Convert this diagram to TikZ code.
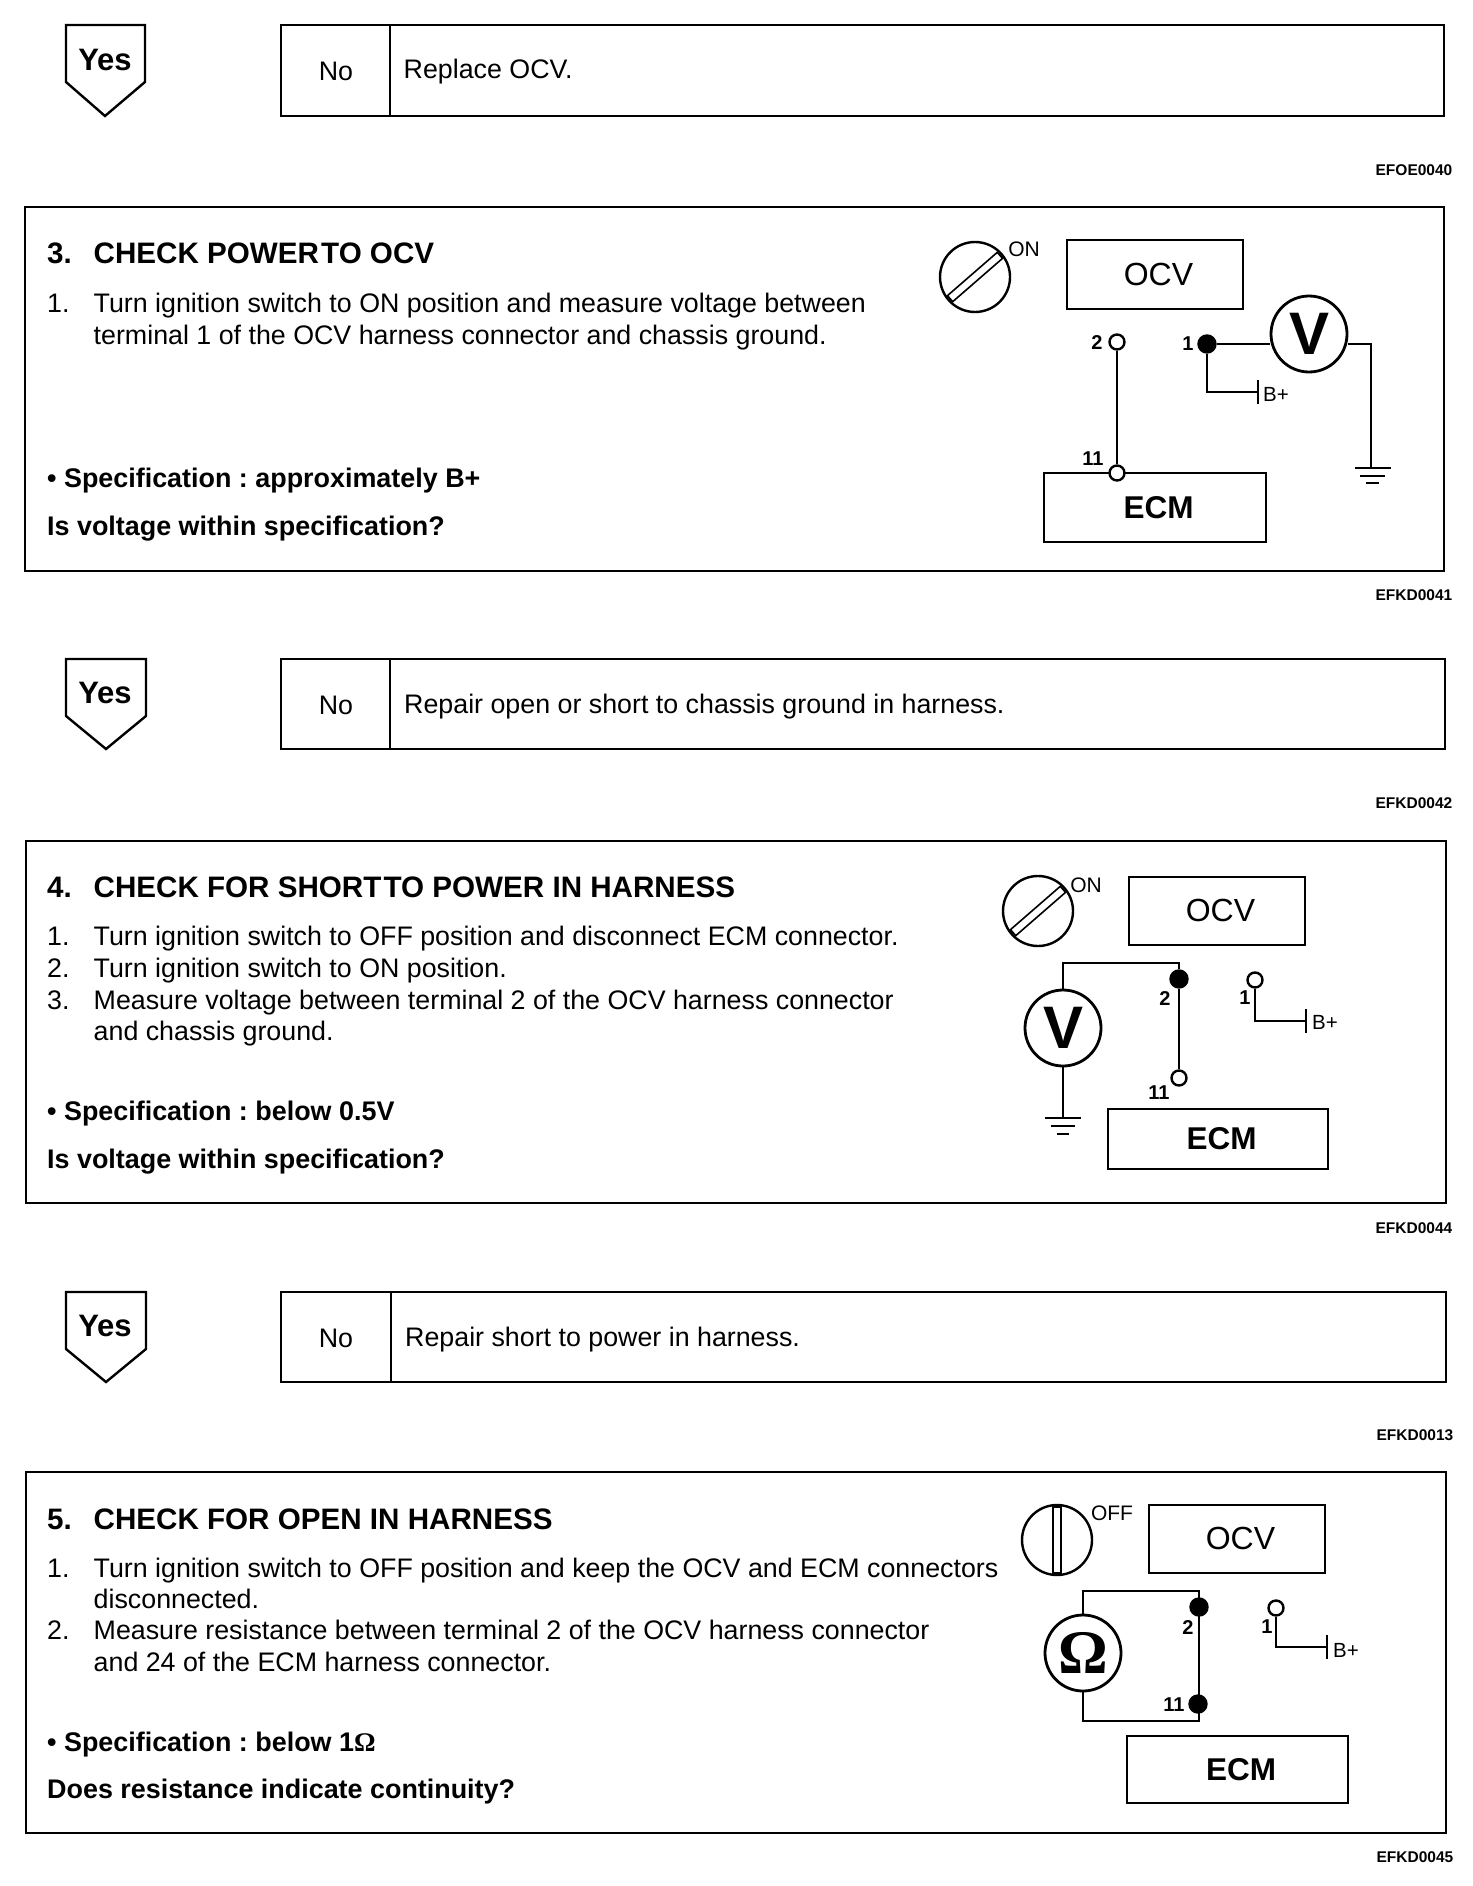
\documentclass[tikz,border=0pt]{standalone}
\usepackage{fontspec}
\usetikzlibrary{calc}
\setmainfont{Liberation Sans}
\newfontfamily\omegafont{Liberation Serif}
\begin{document}
\frenchspacing
\begin{tikzpicture}[x=1pt,y=-1pt,line width=2.4pt,
  body/.style={anchor=base west,inner sep=0pt,font=\fontsize{26.8}{31}\selectfont},
  head/.style={anchor=base west,inner sep=0pt,font=\fontsize{29.6}{33}\selectfont\bfseries},
  spec/.style={anchor=base west,inner sep=0pt,font=\fontsize{26.9}{31}\selectfont\bfseries},
  code/.style={anchor=east,inner sep=0pt,font=\fontsize{15.5}{17}\selectfont\bfseries},
  yes/.style={inner sep=0pt,font=\fontsize{31}{33}\selectfont\bfseries},
  unit/.style={draw,fill=white,inner sep=0pt,font=\fontsize{32}{36}\selectfont},
  ecm/.style={unit,font=\fontsize{31.5}{36}\selectfont\bfseries},
  pin/.style={inner sep=0pt,font=\fontsize{20}{22}\selectfont\bfseries},
  open/.style={draw,circle,fill=white,inner sep=0pt,minimum size=15pt},
  solid/.style={draw,circle,fill=black,inner sep=0pt,minimum size=17pt},
  meter/.style={draw,circle,line width=2.8pt,inner sep=0pt,minimum size=76pt},
  key/.style={draw,circle,inner sep=0pt,minimum size=70pt},
  slot/.style={draw,line width=1.6pt,inner sep=0pt,minimum width=66pt,minimum height=8pt}]
 \useasboundingbox (0,0) rectangle (1472,1886);
 % yes / no rows
 \draw (66,25)--(145,25)--(145,82)--(105,116)--(66,82)--cycle;
 \node[yes] (yes1) at (105,60) {Yes};
 \draw (281,25) rectangle (1444,116);
 \draw (390,25)--(390,116);
 \node[body,anchor=center] (no1) at (336,71) {No};
 \node[body] (txt1) at (402.5,79) {Replace OCV.};
 \node[code] (code1) at (1453.5,170) {EFOE0040};
 \draw (66,659)--(146,659)--(146,716)--(106,749)--(66,716)--cycle;
 \node[yes] (yes2) at (105,693) {Yes};
 \draw (281,659) rectangle (1445,749);
 \draw (390,659)--(390,749);
 \node[body,anchor=center] (no2) at (336,705) {No};
 \node[body] (txt2) at (403,713) {Repair open or short to chassis ground in harness.};
 \node[code] (code3) at (1453.5,803) {EFKD0042};
 \draw (66,1292)--(146,1292)--(146,1349)--(106,1382)--(66,1349)--cycle;
 \node[yes] (yes3) at (105,1326) {Yes};
 \draw (281,1292) rectangle (1446,1382);
 \draw (391,1292)--(391,1382);
 \node[body,anchor=center] (no3) at (336,1338) {No};
 \node[body] (txt3) at (404,1346) {Repair short to power in harness.};
 \node[code] (code5) at (1454.5,1435) {EFKD0013};
 % step 3
 \draw (25,207) rectangle (1444,571);
 \node[head] (n3) at (46,264) {3.};
 \node[head] (h3) at (92.5,264) {CHECK POWER\kern-6pt\ TO OCV};
 \node[body] (n3a) at (46,312) {1.};
 \node[body] (l3a) at (92.5,312) {Turn ignition switch to ON position and measure voltage between};
 \node[body] (l3b) at (92.5,344) {terminal 1 of the OCV harness connector and chassis ground.};
 \node[spec] (s3) at (46,487) {• Specification : approximately B+};
 \node[spec] (q3) at (46,535) {Is voltage within specification?};
 \node[code] (code2) at (1453.5,595) {EFKD0041};
 \node[key] (swa) at (975,277) {};
 \node[slot,rotate=41] (sla) at (975,277) {};
 \node[pin,font=\fontsize{21}{23}\selectfont] (ona) at (1024,249) {ON};
 \node[unit,minimum width=176pt,minimum height=69pt] (ocva) at (1155,274.5) {\hspace{7pt}\raisebox{1.2pt}{OCV}};
 \node[ecm,minimum width=222pt,minimum height=69pt] (ecma) at (1155,507.5) {\hspace{7pt}\raisebox{-3pt}{ECM}};
 \node[open] (p2a) at (1117,342) {};
 \node[open] (p11a) at (1117,473) {};
 \node[solid] (p1a) at (1207,344) {};
 \node[pin] (t2a) at (1097,343) {2};
 \node[pin] (t1a) at (1188,344) {1};
 \node[pin] (t11a) at (1093,459) {11};
 \node[meter,font=\fontsize{60}{62}\selectfont\bfseries] (va) at (1309,334) {V};
 \coordinate (gnda) at (1371,468);
 \coordinate (bpa) at (1258,392);
 \node[pin,anchor=west,font=\fontsize{20.5}{22}\selectfont] (bla) at (1262,394) {B+};
 \draw (p2a)--(p11a);
 \draw (p1a)--(p1a -| va.west);
 \draw (p1a)|-(bpa);
 \draw (bpa)++(0,-12)--++(0,24);
 \draw (va.east |- p1a)-|(gnda);
 \draw ($(gnda)+(-16,0)$)--($(gnda)+(20,0)$);
 \draw ($(gnda)+(-11,8)$)--($(gnda)+(14,8)$);
 \draw ($(gnda)+(-5,15)$)--($(gnda)+(8,15)$);
 % step 4
 \draw (26,841) rectangle (1446,1203);
 \node[head] (n4) at (46,897) {4.};
 \node[head] (h4) at (92.5,897) {CHECK FOR SHORT\kern-6pt\ TO POWER IN HARNESS};
 \node[body] (n4a) at (46,945) {1.};
 \node[body] (l4a) at (92.5,945) {Turn ignition switch to OFF position and disconnect ECM connector.};
 \node[body] (n4b) at (46,977) {2.};
 \node[body] (l4b) at (92.5,977) {Turn ignition switch to ON position.};
 \node[body] (n4c) at (46,1009) {3.};
 \node[body] (l4c) at (92.5,1009) {Measure voltage between terminal 2 of the OCV harness connector};
 \node[body] (l4d) at (92.5,1040) {and chassis ground.};
 \node[spec] (s4) at (46,1120) {• Specification : below 0.5V};
 \node[spec] (q4) at (46,1168) {Is voltage within specification?};
 \node[code] (code4) at (1453.5,1228) {EFKD0044};
 \node[key] (swb) at (1038,911) {};
 \node[slot,rotate=41] (slb) at (1038,911) {};
 \node[pin,font=\fontsize{21}{23}\selectfont] (onb) at (1086,885) {ON};
 \node[unit,minimum width=176pt,minimum height=68pt] (ocvb) at (1217,911) {\hspace{7pt}\raisebox{1.2pt}{OCV}};
 \node[ecm,minimum width=220pt,minimum height=60pt] (ecmb) at (1218,1139) {\hspace{7pt}\raisebox{-5pt}{ECM}};
 \node[solid] (p2b) at (1179,979) {};
 \node[open] (p11b) at (1179,1078) {};
 \node[open] (p1b) at (1255,980) {};
 \node[pin] (t2b) at (1165,999) {2};
 \node[pin] (t11b) at (1159,1093) {11};
 \node[pin] (t1b) at (1245,998) {1};
 \node[meter,font=\fontsize{60}{62}\selectfont\bfseries] (vb) at (1063,1028) {V};
 \coordinate (topb) at (1179,963);
 \coordinate (gndb) at (1063,1118);
 \coordinate (bpb) at (1306,1021);
 \node[pin,anchor=west,font=\fontsize{20.5}{22}\selectfont] (blb) at (1311,1022) {B+};
 \draw (vb.north)|-(topb)--(p2b);
 \draw (p2b)--(p11b);
 \draw (vb.south)--(gndb);
 \draw (p1b)|-(bpb);
 \draw (bpb)++(0,-12)--++(0,24);
 \draw ($(gndb)+(-18,0)$)--($(gndb)+(18,0)$);
 \draw ($(gndb)+(-12,8)$)--($(gndb)+(12,8)$);
 \draw ($(gndb)+(-6,16)$)--($(gndb)+(6,16)$);
 % step 5
 \draw (26,1472) rectangle (1446,1833);
 \node[head] (n5) at (46,1529) {5.};
 \node[head] (h5) at (92.5,1529) {CHECK FOR OPEN IN HARNESS};
 \node[body] (n5a) at (46,1577) {1.};
 \node[body] (l5a) at (92.5,1577) {Turn ignition switch to OFF position and keep the OCV and ECM connectors};
 \node[body] (l5b) at (92.5,1608) {disconnected.};
 \node[body] (n5b) at (46,1639) {2.};
 \node[body] (l5c) at (92.5,1639) {Measure resistance between terminal 2 of the OCV harness connector};
 \node[body] (l5d) at (92.5,1671) {and 24 of the ECM harness connector.};
 \node[spec] (s5) at (46,1751) {• Specification : below 1{\omegafont Ω}};
 \node[spec] (q5) at (46,1798) {Does resistance indicate continuity?};
 \node[code] (code6) at (1454.5,1857) {EFKD0045};
 \node[key] (swc) at (1057,1540) {};
 \node[slot,rotate=90] (slc) at (1057,1540) {};
 \node[pin,font=\fontsize{21}{23}\selectfont] (offc) at (1112,1513) {OFF};
 \node[unit,minimum width=176pt,minimum height=68pt] (ocvc) at (1237,1539) {\hspace{7pt}\raisebox{1.2pt}{OCV}};
 \node[ecm,minimum width=221pt,minimum height=67pt] (ecmc) at (1237.5,1769.5) {\hspace{7pt}\raisebox{-3pt}{ECM}};
 \coordinate (topc) at (1199,1591);
 \coordinate (botc) at (1199,1721);
 \node[meter,font=\fontsize{62}{64}\selectfont\omegafont\bfseries] (ohm) at (1083,1653) {Ω};
 \draw (ohm.north)|-(topc)--(botc)-|(ohm.south);
 \node[solid] (p2c) at (1199,1607) {};
 \node[solid] (p11c) at (1198,1704) {};
 \node[open] (p1c) at (1276,1608) {};
 \node[pin] (t2c) at (1188,1627) {2};
 \node[pin] (t11c) at (1174,1705) {11};
 \node[pin] (t1c) at (1267,1627) {1};
 \coordinate (bpc) at (1327,1647);
 \node[pin,anchor=west,font=\fontsize{20.5}{22}\selectfont] (blc) at (1332,1650) {B+};
 \draw (p1c)|-(bpc);
 \draw (bpc)++(0,-12)--++(0,24);
\end{tikzpicture}
\end{document}
